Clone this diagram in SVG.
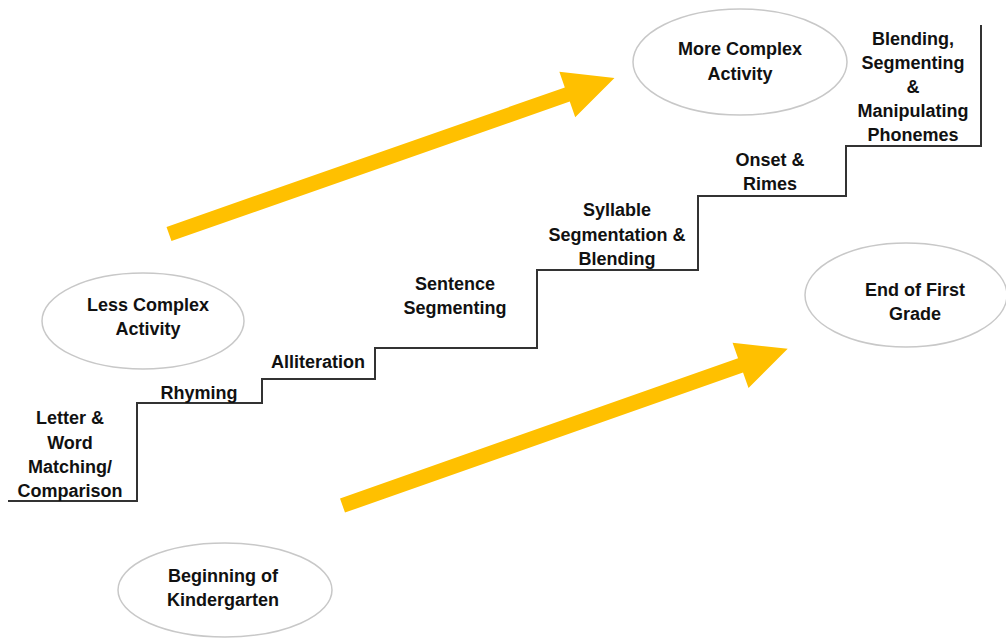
<svg xmlns="http://www.w3.org/2000/svg" width="1006" height="639" viewBox="0 0 1006 639">
<style>
.t{font-family:"Liberation Sans",Arial,sans-serif;font-weight:bold;font-size:18px;fill:#111;text-anchor:middle}
.el{fill:#fff;stroke:#c8c8c8;stroke-width:1.5}
.stair{fill:none;stroke:#333;stroke-width:2}
.arr{fill:#FFC000}
</style>
<defs>
<polygon id="bigArrow" points="0,-7.5 422,-7.5 422,-24 472,0 422,24 422,7.5 0,7.5"/>
</defs>
<rect width="1006" height="639" fill="#fff"/>
<g id="connectors">
<path class="stair" d="M8,501 H137 V403 H262 V379 H375 V348 H537 V270 H698 V196 H846 V146 H981 V25"/>
<use href="#bigArrow" class="arr" transform="translate(169,234) rotate(-19.3)"/>
<use href="#bigArrow" class="arr" transform="translate(342.5,505.5) rotate(-19.4)"/>
</g>
<g id="more-complex">
<ellipse class="el" cx="740" cy="62" rx="107" ry="53"/>
<text class="t" x="740" y="54.5">More Complex</text>
<text class="t" x="740" y="79.5">Activity</text>
</g>
<g id="less-complex">
<ellipse class="el" cx="143" cy="321" rx="101" ry="48"/>
<text class="t" x="148" y="310.5">Less Complex</text>
<text class="t" x="148" y="334.5">Activity</text>
</g>
<g id="end-first">
<ellipse class="el" cx="906" cy="295" rx="101" ry="52"/>
<text class="t" x="915" y="295.5">End of First</text>
<text class="t" x="915" y="319.5">Grade</text>
</g>
<g id="beginning-k">
<ellipse class="el" cx="225" cy="590" rx="107" ry="47"/>
<text class="t" x="223" y="581.5">Beginning of</text>
<text class="t" x="223" y="605.5">Kindergarten</text>
</g>
<g id="step-letter">
<text class="t" x="70" y="423.5">Letter &amp;</text>
<text class="t" x="70" y="448.5">Word</text>
<text class="t" x="70" y="472.5">Matching/</text>
<text class="t" x="70" y="496.5">Comparison</text>
</g>
<g id="step-rhyming">
<text class="t" x="199" y="398.5">Rhyming</text>
</g>
<g id="step-alliteration">
<text class="t" x="318" y="367.5">Alliteration</text>
</g>
<g id="step-sentence">
<text class="t" x="455" y="289.5">Sentence</text>
<text class="t" x="455" y="313.5">Segmenting</text>
</g>
<g id="step-syllable">
<text class="t" x="617" y="215.5">Syllable</text>
<text class="t" x="617" y="240.5">Segmentation &amp;</text>
<text class="t" x="617" y="264.5">Blending</text>
</g>
<g id="step-onset">
<text class="t" x="770" y="165.5">Onset &amp;</text>
<text class="t" x="770" y="189.5">Rimes</text>
</g>
<g id="step-phonemes">
<text class="t" x="913" y="44.5">Blending,</text>
<text class="t" x="913" y="68.5">Segmenting</text>
<text class="t" x="913" y="92.5">&amp;</text>
<text class="t" x="913" y="116.5">Manipulating</text>
<text class="t" x="913" y="140.5">Phonemes</text>
</g>
</svg>
